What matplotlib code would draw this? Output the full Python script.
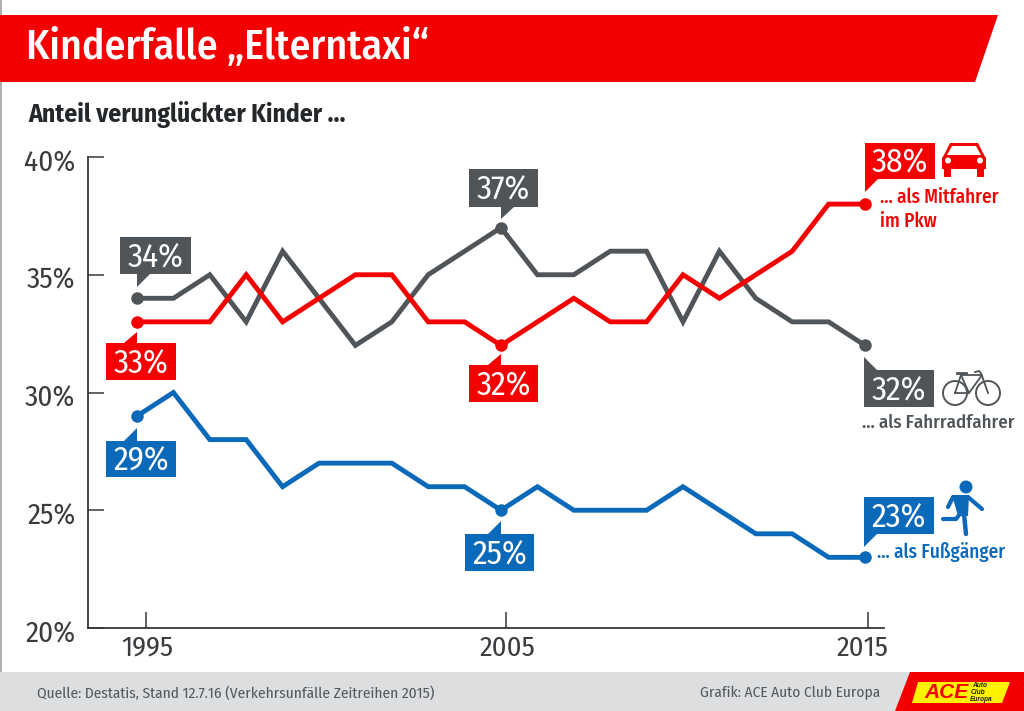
import matplotlib
matplotlib.use('Agg')
import matplotlib.pyplot as plt
from matplotlib.patches import Polygon, Circle, Rectangle
from matplotlib.transforms import ScaledTranslation

plt.rcParams['font.family'] = ['Fira Sans Condensed', 'Roboto Condensed', 'Lato', 'DejaVu Sans']

years = list(range(1995, 2016))
mitfahrer = [33, 33, 33, 35, 33, 34, 35, 35, 33, 33, 32, 33, 34, 33, 33, 35, 34, 35, 36, 38, 38]
fahrrad = [34, 34, 35, 33, 36, 34, 32, 33, 35, 36, 37, 35, 35, 36, 36, 33, 36, 34, 33, 33, 32]
fussgaenger = [29, 30, 28, 28, 26, 27, 27, 27, 26, 26, 25, 26, 25, 25, 25, 26, 25, 24, 24, 23, 23]
highlight_years = [1995, 2005, 2015]
y_ticks = [20, 25, 30, 35, 40]

RED = '#f50000'
GRAY = '#4f5558'
BLUE = '#0a69b8'
DARK = '#33363a'
W, H = 1024, 711

fig = plt.figure(figsize=(W / 100, H / 100), dpi=100)

# main chart, axes box placed in pixels
left, right, top, bottom = 88, 884, 157, 628
ax = fig.add_axes([left / W, 1 - bottom / H, (right - left) / W, (bottom - top) / H])
ax.set_ylim(20, 40)
ax.set_xlim(1995 - (137 - left) / 36.4, 1995 + (right - 137) / 36.4)
ax.spines['top'].set_visible(False)
ax.spines['right'].set_visible(False)
for s in ['left', 'bottom']:
    ax.spines[s].set_color(DARK)
    ax.spines[s].set_linewidth(1.3)

ax.set_yticks(y_ticks)
ax.set_yticklabels([f'{v}%' for v in y_ticks], fontsize=21, color='#3a3c3f')
ax.tick_params(axis='y', direction='in', length=11.5, width=1.1, color=DARK, pad=9)
# labels sit a few pixels under their ticks in the original
for lbl in ax.get_yticklabels():
    lbl.set_transform(lbl.get_transform() + ScaledTranslation(0, -3 / 100, fig.dpi_scale_trans))
# the printed year ticks sit a little right of the data points
ax.set_xticks([1995.27, 2005.17, 2014.92])
ax.set_xticklabels(highlight_years, fontsize=20.5, color='#3a3c3f')
ax.tick_params(axis='x', length=0, pad=5)
ax.set_xticks([1995.25, 2005.14, 2015.08], minor=True)
ax.tick_params(axis='x', which='minor', direction='in', length=11.5, width=1.1, color=DARK)

series = [(fahrrad, GRAY), (mitfahrer, RED), (fussgaenger, BLUE)]
for vals, col in series:
    ax.plot(years, vals, color=col, lw=3.5, solid_joinstyle='miter', zorder=3)
    ax.plot(highlight_years, [vals[years.index(y)] for y in highlight_years], 'o',
            color=col, ms=9, mew=0, zorder=4)

# overlay in pixel coordinates for banner, callouts and icons
ov = fig.add_axes([0, 0, 1, 1], facecolor='none')
ov.set_xlim(0, W)
ov.set_ylim(H, 0)
ov.axis('off')

ov.add_patch(Rectangle((0, 0), 1.5, H, color='#b0b0b0', lw=0))
ov.add_patch(Polygon([(0, 15), (998, 15), (975, 82), (0, 82)], color=RED, lw=0))
ov.text(26, 48, 'Kinderfalle „Elterntaxi“', color='white', fontsize=30, fontweight='medium',
        va='center', ha='left')
ov.text(28, 114, 'Anteil verunglückter Kinder ...', color='#25282b', fontsize=18.4, fontweight='bold',
        va='center', ha='left')

ov.add_patch(Rectangle((0, 672), W, H - 672, color='#dcdee0', lw=0))
ov.text(37, 693, 'Quelle: Destatis, Stand 12.7.16 (Verkehrsunfälle Zeitreihen 2015)', color='#55595c',
        fontsize=11.1, va='center')
ov.text(700, 693, 'Grafik: ACE Auto Club Europa', color='#55595c', fontsize=11.1, va='center')

# logo
ov.add_patch(Polygon([(910, 672), (W, 672), (W, H), (895, H)], color=RED, lw=0))
ov.add_patch(Polygon([(918, 682), (1010, 682), (1002, 703), (912, 703)], color='#fff200', lw=0))
ov.text(946, 692.5, 'ACE', color=RED, fontsize=15, fontweight='bold', fontstyle='italic',
        family=['Liberation Sans', 'DejaVu Sans'], ha='center', va='center')
for i, word in enumerate(['Auto', 'Club', 'Europa']):
    ov.text(972 - i, 685.5 + i * 7, word, color='#222222', fontsize=4.8, fontstyle='italic', fontweight='bold',
            family=['Liberation Sans', 'DejaVu Sans'], va='center')


def callout(vals, year, col, box, tail):
    """box = x0, y0, x1, y1 in pixels, tail = tip and two base points"""
    x0, y0, x1, y1 = box
    ov.add_patch(Rectangle((x0, y0), x1 - x0, y1 - y0, color=col, lw=0, zorder=5))
    ov.add_patch(Polygon(tail, color=col, lw=0, zorder=5))
    ov.text((x0 + x1) / 2, (y0 + y1) / 2 + 2.5, f'{vals[years.index(year)]}%', color='white', fontsize=24,
            ha='center', va='center', zorder=6)


callout(fahrrad, 1995, GRAY, (120, 237, 191, 274), [(137, 287), (137, 274), (150, 274)])
callout(mitfahrer, 1995, RED, (106, 343, 176, 380), [(137, 332), (124, 343), (137, 343)])
callout(fussgaenger, 1995, BLUE, (106, 441, 176, 477), [(137, 428), (124, 441), (137, 441)])
callout(fahrrad, 2005, GRAY, (469, 169, 538, 207), [(501, 219), (501, 207), (514, 207)])
callout(mitfahrer, 2005, RED, (469, 365, 538, 402), [(501, 354), (488, 365), (501, 365)])
callout(fussgaenger, 2005, BLUE, (465, 534, 534, 571), [(501, 521), (488, 534), (501, 534)])
callout(mitfahrer, 2015, RED, (865, 143, 935, 179), [(865, 192), (865, 179), (878, 179)])
callout(fahrrad, 2015, GRAY, (864, 370, 934, 407), [(864, 357), (864, 370), (877, 370)])
callout(fussgaenger, 2015, BLUE, (864, 497, 934, 534), [(864, 547), (864, 534), (877, 534)])

ov.text(880, 197, '... als Mitfahrer', color=RED, fontsize=13.9, fontweight='medium', va='center')
ov.text(880, 221, 'im Pkw', color=RED, fontsize=13.9, fontweight='medium', va='center')
ov.text(862, 423, '... als Fahrradfahrer', color=GRAY, fontsize=13.6, fontweight='medium', va='center')
ov.text(877, 552, '... als Fußgänger', color=BLUE, fontsize=13.9, fontweight='medium', va='center')

# car icon
ov.add_patch(Polygon([(950, 143), (978, 143), (984, 155), (986, 158), (986, 169), (942, 169), (942, 158), (944, 155)],
                     color=RED, lw=0, joinstyle='round'))
ov.add_patch(Polygon([(952, 146), (976, 146), (981, 155), (947, 155)], color='white', lw=0))
ov.add_patch(Circle((948, 160.5), 3, color='white', lw=0))
ov.add_patch(Circle((980, 160.5), 3, color='white', lw=0))
ov.add_patch(Rectangle((944, 169), 7, 8, color=RED, lw=0))
ov.add_patch(Rectangle((977, 169), 7, 8, color=RED, lw=0))

# bicycle icon
for cx in [955, 988]:
    ov.add_patch(Circle((cx, 393), 12, fill=False, ec=GRAY, lw=1.4))
ov.plot([955, 969, 961, 955], [393, 393, 375, 393], color=GRAY, lw=1.3)
ov.plot([961, 982, 969], [375, 375, 393], color=GRAY, lw=1.3)
ov.plot([988, 981, 979, 975], [393, 373, 371, 372], color=GRAY, lw=1.3)
ov.plot([957, 966], [373, 373], color=GRAY, lw=2)

# runner icon
ov.add_patch(Circle((966, 487), 6.5, color=BLUE, lw=0))
ov.add_patch(Polygon([(952, 495), (969, 495), (968, 516), (958, 516)], color=BLUE, lw=0))
ov.plot([968, 982], [497, 509], color=BLUE, lw=3, solid_capstyle='round')
ov.plot([953, 948], [497, 507], color=BLUE, lw=3, solid_capstyle='round')
ov.plot([964, 966], [514, 534], color=BLUE, lw=3.2, solid_capstyle='round')
ov.plot([960, 956, 943], [514, 519, 519], color=BLUE, lw=3, solid_capstyle='round')

ov.set_xlim(0, W)
ov.set_ylim(H, 0)

fig.savefig('out.png', dpi=100)
